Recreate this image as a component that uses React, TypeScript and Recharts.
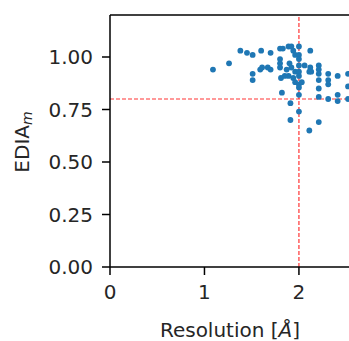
import { ScatterChart, Scatter, XAxis, YAxis, ReferenceLine, Label } from 'recharts';

// resolution (Å) for each structure
const resolution = [
  1.09, 1.26, 1.38, 1.45, 1.51, 1.6, 1.7, 1.51, 1.51, 1.59, 1.61, 1.67, 1.7,
  1.8, 1.83, 1.89, 1.92, 1.94, 1.96, 1.8, 1.8, 1.8, 1.87, 1.92, 1.96, 1.89,
  1.85, 1.94, 1.96, 1.81, 1.9, 1.82, 1.91, 1.91,
  2.0, 2.0, 2.0, 2.0, 2.0, 2.0, 2.0, 2.0, 2.0, 2.0, 2.03,
  2.12, 2.06, 2.12, 2.13, 2.11, 2.11,
  2.21, 2.21, 2.21, 2.21, 2.21, 2.21, 2.21,
  2.31, 2.31, 2.31, 2.31,
  2.41, 2.41, 2.41,
  2.52, 2.52, 2.52,
];
// EDIA_m for each structure
const ediaM = [
  0.94, 0.97, 1.03, 1.02, 1.01, 1.03, 1.02, 0.92, 0.89, 0.94, 0.95, 0.95, 0.94,
  1.04, 1.04, 1.05, 1.05, 1.03, 1.01, 0.99, 0.97, 0.95, 0.94, 0.95, 0.93, 0.91,
  0.91, 0.9, 0.88, 0.9, 0.97, 0.83, 0.78, 0.7,
  1.05, 1.01, 0.99, 0.96, 0.93, 0.91, 0.87, 0.855, 0.82, 0.74, 0.88,
  1.03, 0.96, 0.95, 0.93, 0.93, 0.65,
  0.96, 0.94, 0.92, 0.89, 0.85, 0.81, 0.69,
  0.92, 0.89, 0.87, 0.8,
  0.91, 0.82, 0.79,
  0.92, 0.86, 0.8,
];

const xTicks = [0, 1, 2];
const yTicks = [0, 0.25, 0.5, 0.75, 1.0];
const resCutoff = 2;
const ediaCutoff = 0.8;

const points = resolution.map((r, i) => ({ res: r, edia: ediaM[i] }));

const font = 'DejaVu Sans, sans-serif';
const tickStyle = { fontSize: 20, fill: '#262626', fontFamily: font };

const YLabel = () => (
  <text
    x={22}
    y={142}
    transform="rotate(-90, 22, 142)"
    textAnchor="middle"
    dominantBaseline="central"
    fontSize={20}
    fontFamily={font}
    fill="#262626"
  >
    EDIA
    <tspan fontStyle="italic" fontSize={14} dy={5}>m</tspan>
  </text>
);

const XLabel = () => (
  <text x={230} y={337} textAnchor="middle" fontSize={20} fontFamily={font} fill="#262626">
    Resolution [<tspan fontStyle="italic">Å</tspan>]
  </text>
);

const App = () => (
  <div style={{ position: 'absolute', left: 0, top: 0, background: '#fff' }}>
    <ScatterChart width={349} height={341} margin={{ top: 15, right: 0, bottom: 0, left: 0 }}>
      <XAxis
        type="number"
        dataKey="res"
        domain={[0, 2.53]}
        ticks={xTicks}
        allowDataOverflow
        height={74}
        tick={tickStyle}
        tickSize={8}
        tickMargin={10}
        stroke="#000"
        strokeWidth={1.5}
        tickLine={{ stroke: '#000', strokeWidth: 1.5 }}
      >
        <Label content={<XLabel />} />
      </XAxis>
      <YAxis
        type="number"
        dataKey="edia"
        domain={[0, 1.2]}
        ticks={yTicks}
        allowDataOverflow
        width={110}
        tick={tickStyle}
        tickFormatter={(v: number) => v.toFixed(2)}
        tickSize={8}
        tickMargin={9}
        stroke="#000"
        strokeWidth={1.5}
        tickLine={{ stroke: '#000', strokeWidth: 1.5 }}
      >
        <Label content={<YLabel />} />
      </YAxis>
      <ReferenceLine y={1.2} stroke="#000" strokeWidth={1.5} />
      <ReferenceLine y={ediaCutoff} stroke="#ff0000" strokeOpacity={0.8} strokeDasharray="4 2" strokeWidth={1.2} />
      <ReferenceLine x={resCutoff} stroke="#ff0000" strokeOpacity={0.8} strokeDasharray="4 2" strokeWidth={1.2} />
      <Scatter
        data={points}
        fill="#1f77b4"
        isAnimationActive={false}
        shape={(p: any) => <circle cx={p.cx} cy={p.cy} r={2.9} fill="#1f77b4" />}
      />
    </ScatterChart>
  </div>
);

export default App;
